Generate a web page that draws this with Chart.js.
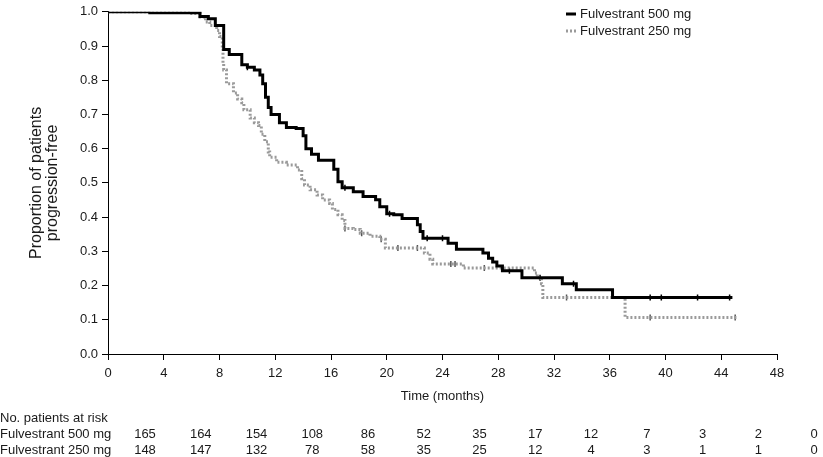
<!DOCTYPE html>
<html>
<head>
<meta charset="utf-8">
<script src="https://cdn.jsdelivr.net/npm/chart.js@4.4.1/dist/chart.umd.min.js"></script>
<style>
  html, body { margin: 0; padding: 0; background: #fff; }
</style>
</head>
<body>
<canvas id="kmChart" width="823" height="457"></canvas>
<script>
// x axis ticks (months)
const timeTicks = [0, 4, 8, 12, 16, 20, 24, 28, 32, 36, 40, 44, 48];

// Kaplan-Meier steps: time of each drop and the value after it
const t500 = [0, 3.0, 6.6, 7.2, 7.7, 8.3, 8.7, 9.6, 10.0, 10.5, 10.9, 11.1, 11.3, 11.5, 11.7, 12.3, 12.8, 13.5, 14.0, 14.2, 14.6, 15.1, 16.2, 16.5, 16.8, 17.6, 18.3, 19.2, 19.5, 20.0, 20.5, 21.1, 22.2, 22.4, 22.6, 24.4, 25.0, 26.9, 27.3, 27.6, 27.9, 28.3, 29.7, 32.6, 33.6, 36.2, 44.8];
const p500 = [1.0, 0.997, 0.986, 0.98, 0.96, 0.89, 0.875, 0.845, 0.838, 0.83, 0.815, 0.79, 0.75, 0.72, 0.70, 0.676, 0.662, 0.659, 0.638, 0.60, 0.584, 0.566, 0.54, 0.503, 0.486, 0.474, 0.46, 0.451, 0.43, 0.41, 0.407, 0.396, 0.378, 0.358, 0.338, 0.324, 0.306, 0.295, 0.28, 0.269, 0.257, 0.243, 0.223, 0.205, 0.188, 0.165, 0.165];

const t250 = [0, 5.9, 6.6, 7.0, 7.3, 7.8, 8.0, 8.2, 8.25, 8.3, 8.5, 9.0, 9.3, 9.6, 9.75, 10.2, 10.5, 10.8, 11.0, 11.25, 11.5, 11.6, 12.1, 12.8, 13.6, 13.9, 14.1, 14.5, 15.0, 15.4, 15.9, 16.1, 16.5, 16.8, 17.0, 17.6, 18.1, 18.8, 19.5, 19.9, 22.7, 23.1, 23.3, 25.5, 30.6, 30.8, 31.1, 31.2, 37.1, 45.1];
const p250 = [1.0, 0.995, 0.985, 0.97, 0.96, 0.945, 0.928, 0.90, 0.85, 0.83, 0.79, 0.763, 0.745, 0.734, 0.714, 0.69, 0.676, 0.668, 0.642, 0.62, 0.59, 0.575, 0.56, 0.552, 0.538, 0.512, 0.494, 0.48, 0.465, 0.45, 0.44, 0.422, 0.407, 0.39, 0.367, 0.364, 0.353, 0.344, 0.335, 0.31, 0.295, 0.277, 0.263, 0.251, 0.237, 0.223, 0.205, 0.165, 0.107, 0.107];

// censored observations (months)
const cens500 = [10.0, 17.0, 20.2, 22.9, 24.0, 28.8, 31.0, 33.4, 38.9, 39.7, 42.3, 44.6];
const cens250 = [17.0, 18.2, 19.6, 20.8, 22.2, 24.6, 24.9, 27.0, 32.9, 38.9, 45.0];

// number at risk table
const riskTitle = 'No. patients at risk';
const seriesNames = ['Fulvestrant 500 mg', 'Fulvestrant 250 mg'];
const risk500 = [165, 164, 154, 108, 86, 52, 35, 17, 12, 7, 3, 2, 0];
const risk250 = [148, 147, 132, 78, 58, 35, 25, 12, 4, 3, 1, 1, 0];

const FONT = '"Liberation Sans", Arial, sans-serif';
const TEXT = '#1a1a1a';

function toPoints(ts, ps) {
    return ts.map((t, i) => ({ x: t, y: ps[i] }));
}
function valueAt(ts, ps, t) {
    let v = ps[0];
    for (let i = 0; i < ts.length; i++) {
        if (ts[i] <= t) v = ps[i];
    }
    return v;
}
function censPoints(cs, ts, ps) {
    return cs.map(t => ({ x: t, y: valueAt(ts, ps, t) }));
}

const riskTable = {
    id: 'riskTable',
    afterDraw(chart) {
        const ctx = chart.ctx;
        const xs = chart.scales.x;
        ctx.save();
        ctx.font = '13px ' + FONT;
        ctx.fillStyle = TEXT;
        ctx.textBaseline = 'middle';
        ctx.textAlign = 'left';
        ctx.fillText(riskTitle, 0, 418);
        ctx.fillText(seriesNames[0], 0, 434);
        ctx.fillText(seriesNames[1], 0, 450);
        ctx.textAlign = 'center';
        timeTicks.forEach((t, i) => {
            const x = xs.getPixelForValue(t) + 37;
            ctx.fillText(String(risk500[i]), x, 434);
            ctx.fillText(String(risk250[i]), x, 450);
        });

        // legend
        ctx.textAlign = 'left';
        ctx.lineWidth = 3;
        ctx.strokeStyle = '#000';
        ctx.beginPath();
        ctx.moveTo(566, 14);
        ctx.lineTo(576, 14);
        ctx.stroke();
        ctx.strokeStyle = '#9a9a9a';
        ctx.setLineDash([2, 2]);
        ctx.beginPath();
        ctx.moveTo(566, 31);
        ctx.lineTo(576, 31);
        ctx.stroke();
        ctx.setLineDash([]);
        ctx.fillText(seriesNames[0], 580, 14);
        ctx.fillText(seriesNames[1], 580, 31);
        ctx.restore();
    }
};

new Chart(document.getElementById('kmChart'), {
    type: 'line',
    data: {
        datasets: [
            {
                label: seriesNames[0],
                data: toPoints(t500, p500),
                borderColor: '#000',
                borderWidth: 3,
                stepped: 'before',
                pointRadius: 0,
                fill: false
            },
            {
                label: seriesNames[1],
                data: toPoints(t250, p250),
                borderColor: '#9a9a9a',
                borderWidth: 3,
                borderDash: [2, 2],
                stepped: 'before',
                pointRadius: 0,
                fill: false
            },
            {
                label: 'cens500',
                data: censPoints(cens500, t500, p500),
                showLine: false,
                pointStyle: 'line',
                rotation: 90,
                pointRadius: 3,
                borderColor: '#000',
                borderWidth: 1.5
            },
            {
                label: 'cens250',
                data: censPoints(cens250, t250, p250),
                showLine: false,
                pointStyle: 'line',
                rotation: 90,
                pointRadius: 3,
                borderColor: '#555',
                borderWidth: 1.5
            }
        ]
    },
    options: {
        responsive: false,
        animation: false,
        layout: { padding: { left: 0, right: 46, top: 8, bottom: 53 } },
        plugins: {
            legend: { display: false },
            tooltip: { enabled: false }
        },
        scales: {
            x: {
                type: 'linear',
                min: 0,
                max: 48,
                afterFit: s => { s.height = 50; },
                ticks: { stepSize: 4, color: TEXT, font: { family: FONT, size: 13 }, padding: 6, maxRotation: 0 },
                grid: { display: true, drawOnChartArea: false, tickLength: 6, color: '#000' },
                border: { color: '#000', width: 1 },
                title: { display: true, text: 'Time (months)', color: TEXT, font: { family: FONT, size: 13 }, padding: 0 }
            },
            y: {
                min: 0,
                max: 1,
                afterFit: s => { s.width = 108; },
                ticks: { stepSize: 0.1, color: TEXT, font: { family: FONT, size: 13 }, padding: 4, callback: v => v.toFixed(1) },
                grid: { display: true, drawOnChartArea: false, tickLength: 6, color: '#000' },
                border: { color: '#000', width: 1 },
                title: {
                    display: true,
                    text: ['Proportion of patients', 'progression-free'],
                    color: TEXT,
                    font: { family: FONT, size: 16, lineHeight: 1.0 },
                    padding: { top: 29, bottom: 0 }
                }
            }
        }
    },
    plugins: [riskTable]
});
</script>
</body>
</html>
